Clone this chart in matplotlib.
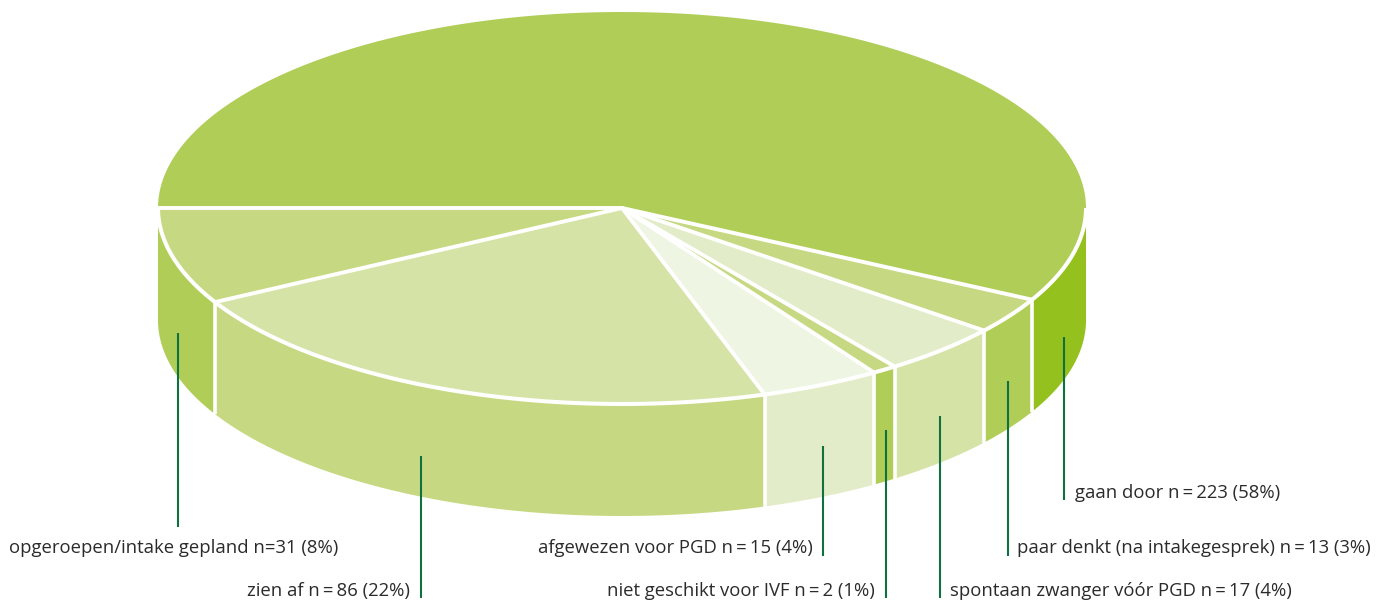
import numpy as np
import matplotlib
matplotlib.use('Agg')
import matplotlib.pyplot as plt
from matplotlib.patches import Polygon

# slices, clockwise on screen from the left edge of the pie
names = ['opgeroepen/intake gepland', 'zien af', 'afgewezen voor PGD', 'niet geschikt voor IVF',
         'spontaan zwanger vóór PGD', 'paar denkt (na intakegesprek)', 'gaan door']
counts = [31, 86, 15, 2, 17, 13, 223]
percents = [8, 22, 4, 1, 4, 3, 58]
# slice widths as drawn in the picture, degrees
widths = [28.7, 79.2, 15.0, 3.1, 15.3, 10.8, 207.9]

top_colors = ['#c6d982', '#d5e3a7', '#eef5e2', '#c6d982', '#e3ecc8', '#c6d982', '#b0ce57']
side_colors = ['#b0ce57', '#c6d982', '#e3ecc8', '#b0ce57', '#d5e3a7', '#b0ce57', '#95c11f']

# label texts, leader x, leader top, leader bottom, text y, text anchor x
label_texts = ['opgeroepen/intake gepland n=31 (8%)', 'zien af n\u2009=\u200986 (22%)',
               'afgewezen voor PGD n\u2009=\u200915 (4%)', 'niet geschikt voor IVF n\u2009=\u20092 (1%)',
               'spontaan zwanger vóór PGD n\u2009=\u200917 (4%)',
               'paar denkt (na intakegesprek) n\u2009=\u200913 (3%)', 'gaan door n\u2009=\u2009223 (58%)']
line_x = [178, 421, 823, 886, 940, 1008, 1064]
line_top = [333, 456, 446, 430, 416, 381, 337]
line_bottom = [527, 598, 556, 598, 598, 556, 500]
text_x = [9, 410, 813, 875, 950, 1017, 1075]
text_y = [548, 591, 548, 591, 591, 548, 493]
text_ha = ['left', 'right', 'right', 'right', 'left', 'left', 'left']

cx, cy, rx, ry, depth = 622, 208, 464, 196, 112

plt.rcParams['font.family'] = ['Open Sans', 'DejaVu Sans']

fig = plt.figure(figsize=(13.82, 6.03), dpi=100)
ax = fig.add_axes([0, 0, 1, 1])
ax.set_xlim(0, 1382)
ax.set_ylim(603, 0)
ax.axis('off')


def rim(a, b, dy=0):
    t = np.radians(np.linspace(a, b, 200))
    return np.column_stack([cx + rx * np.cos(t), cy - ry * np.sin(t) + dy])


bounds = [180]
for w in widths:
    bounds.append(bounds[-1] + w)

# sides first, only the part that faces the viewer (180..360)
for i in range(len(widths)):
    a = max(bounds[i], 180)
    b = min(bounds[i + 1], 360)
    pts = np.vstack([rim(a, b), rim(b, a, depth)])
    ax.add_patch(Polygon(pts, closed=True, fc=side_colors[i], ec='none', zorder=1))
    # white seams between the side panels
    if b < 360:
        e = rim(b, b)[0]
        ax.plot([e[0], e[0]], [e[1], e[1] + depth], color='white', lw=2.6, zorder=2,
                solid_capstyle='butt')

# top
for i in range(len(widths)):
    pts = np.vstack([[cx, cy], rim(bounds[i], bounds[i + 1])])
    ax.add_patch(Polygon(pts, closed=True, fc=top_colors[i], ec='none', zorder=3))

# white spokes and the white front rim, the back half has no outline
for b in bounds[:-1]:
    e = rim(b, b)[0]
    ax.plot([cx, e[0]], [cy, e[1]], color='white', lw=2.8, zorder=4, solid_capstyle='butt')
pts = rim(180, 360)
ax.plot(pts[:, 0], pts[:, 1], color='white', lw=2.9, zorder=4, solid_capstyle='butt')

# leaders and labels
for i in range(len(label_texts)):
    ax.plot([line_x[i], line_x[i]], [line_top[i], line_bottom[i]], color='#0f7040', lw=1.5,
            solid_capstyle='butt', zorder=5)
    ax.text(text_x[i], text_y[i], label_texts[i], fontsize=13.3, color='#2b2b2b', ha=text_ha[i],
            va='center', zorder=6)

fig.savefig('out.png', dpi=100)
